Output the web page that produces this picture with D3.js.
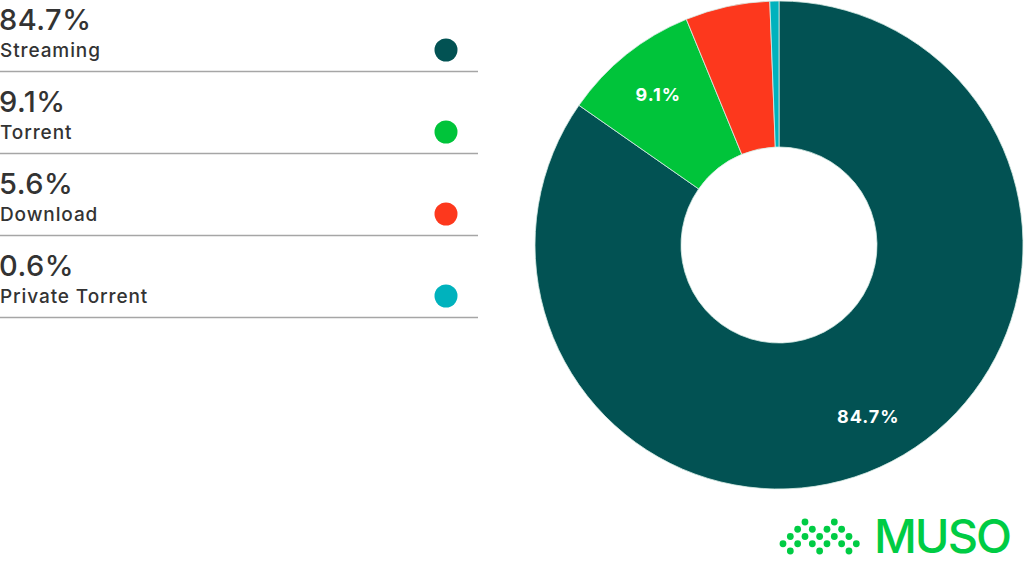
<!DOCTYPE html>
<html>
<head>
<meta charset="utf-8">
<script src="https://cdn.jsdelivr.net/npm/d3@7"></script>
<style>
  html, body { margin: 0; padding: 0; background: #fff; }
  svg { display: block; }
</style>
</head>
<body>
<svg id="chart" width="1024" height="569"></svg>
<script>
// ---- data ----
const categories = ["Streaming", "Torrent", "Download", "Private Torrent"];
const shares = [84.7, 9.1, 5.6, 0.6];
const colors = ["#025253", "#00c43a", "#fd381d", "#00b2bd"];

// logo dot grid (columns per row)
const logoRows = [[3, 7], [2, 4, 6, 8], [1, 3, 5, 7, 9], [0, 2, 4, 6, 8, 10], [1, 5, 9]];

const svg = d3.select("#chart");
const data = categories.map((c, i) => ({ name: c, value: shares[i], color: colors[i] }));
const FONT = "Inter, sans-serif";

// ---- donut ----
const cx = 779, cy = 245, rOuter = 244, rInner = 98;
const pie = d3.pie().sort(null).value(d => d.value);
const arc = d3.arc().innerRadius(rInner).outerRadius(rOuter);
const labelArc = d3.arc().innerRadius(193).outerRadius(193);
const g = svg.append("g").attr("transform", `translate(${cx},${cy})`);
const arcs = pie(data);
g.selectAll("path").data(arcs).join("path")
  .attr("d", arc)
  .attr("fill", d => d.data.color)
  .attr("stroke", "#d8ece6")
  .attr("stroke-width", 0.8);
g.selectAll("text").data(arcs.filter(d => d.data.value > 6)).join("text")
  .attr("transform", d => `translate(${labelArc.centroid(d)})`)
  .attr("text-anchor", "middle")
  .attr("dy", "0.36em")
  .attr("fill", "#fff")
  .style("font-family", FONT)
  .style("font-weight", 700)
  .style("font-size", "18px")
  .style("letter-spacing", "1px")
  .text(d => d.data.value.toFixed(1) + "%");

// ---- legend ----
const rowH = 82;
const y = d3.scaleBand().domain(categories).range([0, rowH * categories.length]);
const leg = svg.append("g");
const rows = leg.selectAll("g").data(data).join("g")
  .attr("transform", d => `translate(0,${y(d.name)})`);
rows.append("text")
  .attr("x", -1).attr("y", 30)
  .attr("fill", "#333")
  .style("font-family", FONT)
  .style("font-weight", 500)
  .style("font-size", "29px")
  .style("letter-spacing", "0.5px")
  .text(d => d.value.toFixed(1) + "%");
rows.append("text")
  .attr("x", 0).attr("y", 57)
  .attr("fill", "#333")
  .style("font-family", FONT)
  .style("font-weight", 500)
  .style("font-size", "19px")
  .style("letter-spacing", "0.9px")
  .text(d => d.name);
rows.append("circle")
  .attr("cx", 446).attr("cy", 50).attr("r", 11.5)
  .attr("fill", d => d.color);
rows.append("line")
  .attr("x1", 0).attr("x2", 478)
  .attr("y1", 71.5).attr("y2", 71.5)
  .attr("stroke", "#a6a6a6")
  .attr("stroke-width", 1.6);

// ---- logo ----
const logo = svg.append("g");
const logoGreen = "#00cc44";
logoRows.forEach((cols, ri) => {
  cols.forEach(ci => {
    logo.append("circle")
      .attr("cx", 783 + ci * 7.33)
      .attr("cy", 522 + ri * 7.25)
      .attr("r", 3.4)
      .attr("fill", logoGreen);
  });
});
logo.append("text")
  .attr("x", 874).attr("y", 553)
  .attr("fill", logoGreen)
  .attr("textLength", 138)
  .attr("lengthAdjust", "spacing")
  .style("font-family", FONT)
  .style("font-weight", 500)
  .style("font-size", "47px")
  .text("MUSO");
</script>
</body>
</html>
